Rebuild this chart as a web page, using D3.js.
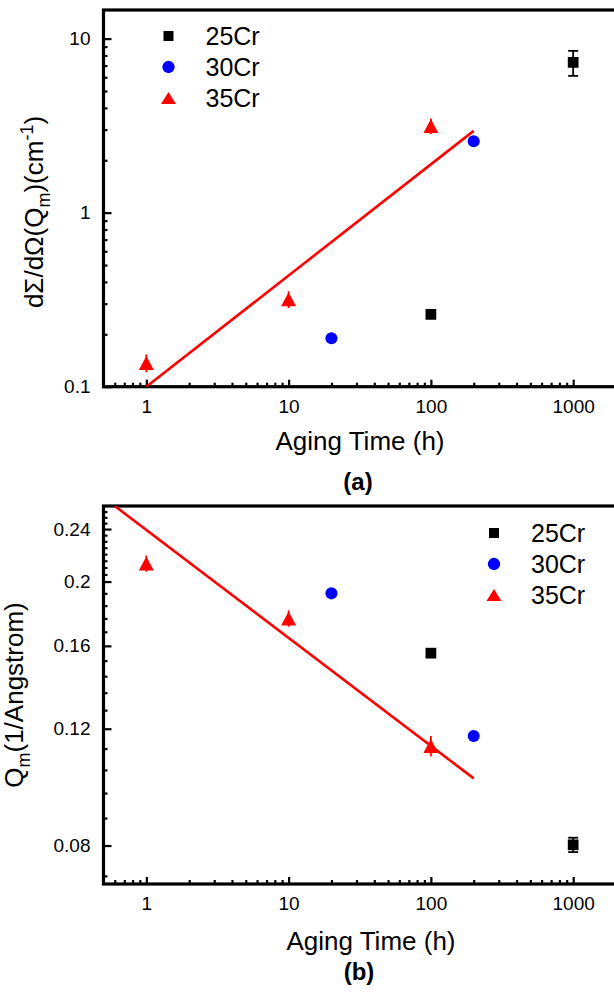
<!DOCTYPE html>
<html>
<head>
<meta charset="utf-8">
<script src="https://cdn.jsdelivr.net/npm/d3@7"></script>
<style>
  html, body { margin: 0; padding: 0; background: #fff; }
  svg { display: block; }
  text { font-family: "Liberation Sans", Arial, Helvetica, sans-serif; fill: #000; }
</style>
</head>
<body>
<div id="chart"></div>
<script>
// ---------------- DATA ----------------
const seriesNames = ["25Cr", "30Cr", "35Cr"];
const seriesColors = ["#000000", "#0000ff", "#ff0000"];

// Panel (a): dΣ/dΩ(Qm) (cm^-1) vs aging time (h)
const time25 = [100, 1000];
const a25 = [0.26, 7.3];
const a25err = [0.01, 1.2];
const time30 = [20, 200];
const a30 = [0.19, 2.57];
const a30err = [0, 0];
const time35 = [1, 10, 100];
const a35 = [0.137, 0.318, 3.15];
const a35err = [0.016, 0.035, 0.32];
const fitATime = [1, 200];
const fitA = [0.1, 2.95];

// Panel (b): Qm (1/Angstrom) vs aging time (h)
const b25 = [0.156, 0.0802];
const b25err = [0.002, 0.002];
const b30 = [0.192, 0.117];
const b30err = [0, 0];
const b35 = [0.213, 0.176, 0.113];
const b35err = [0.006, 0.005, 0.004];
const fitBTime = [0.6, 200];
const fitB = [0.26, 0.101];

// Ticks
const xMajor = [1, 10, 100, 1000];
const xMinor = [0.6, 0.7, 0.8, 0.9, 2, 3, 4, 5, 6, 7, 8, 9, 20, 30, 40, 50, 60, 70, 80, 90,
                200, 300, 400, 500, 600, 700, 800, 900];
const yMajorA = [0.1, 1, 10];
const yMinorA = [0.2, 0.3, 0.4, 0.5, 0.6, 0.7, 0.8, 0.9, 2, 3, 4, 5, 6, 7, 8, 9];
const yMajorB = [0.08, 0.12, 0.16, 0.2, 0.24];
const yMinorB = [0.072, 0.088, 0.096, 0.104, 0.112, 0.128, 0.136, 0.144, 0.152,
                 0.168, 0.176, 0.184, 0.192, 0.205, 0.21, 0.215, 0.22, 0.225, 0.23, 0.235,
                 0.245, 0.25, 0.255];

// ---------------- DRAW ----------------
const W = 614, H = 992;
const svg = d3.select("#chart").append("svg").attr("width", W).attr("height", H);

function fmtTick(d) {
  return String(d);
}

function drawPanel(p) {
  const x = d3.scaleLog().domain([0.5, 2000]).range([p.left, p.right]);
  const y = d3.scaleLog().domain(p.yDomain).range([p.bottom, p.top]);
  const g = svg.append("g");
  const clipId = "clip" + p.id;
  svg.append("defs").append("clipPath").attr("id", clipId)
    .append("rect").attr("x", p.left).attr("y", p.top)
    .attr("width", p.right - p.left).attr("height", p.bottom - p.top);

  // minor ticks
  const xMin = d3.axisBottom(x).tickValues(xMinor).tickSize(-4).tickFormat("");
  const xMaj = d3.axisBottom(x).tickValues(xMajor).tickSize(-7).tickPadding(13).tickFormat(fmtTick);
  const yMin = d3.axisLeft(y).tickValues(p.yMinor).tickSize(-4).tickFormat("");
  const yMaj = d3.axisLeft(y).tickValues(p.yMajor).tickSize(-8).tickPadding(13).tickFormat(fmtTick);

  [xMin, xMaj].forEach(ax => {
    const a = g.append("g").attr("transform", `translate(0,${p.bottom})`).call(ax);
    a.select(".domain").remove();
    a.selectAll("line").attr("stroke", "#000").attr("stroke-width", 2.2);
    a.selectAll("text").attr("font-size", 19).attr("font-family", "Liberation Sans, Arial, sans-serif");
  });
  [yMin, yMaj].forEach(ax => {
    const a = g.append("g").attr("transform", `translate(${p.left},0)`).call(ax);
    a.select(".domain").remove();
    a.selectAll("line").attr("stroke", "#000").attr("stroke-width", 2.2);
    a.selectAll("text").attr("font-size", 19).attr("font-family", "Liberation Sans, Arial, sans-serif");
  });

  // frame
  g.append("rect").attr("x", p.left).attr("y", p.top)
    .attr("width", p.right - p.left).attr("height", p.bottom - p.top)
    .attr("fill", "none").attr("stroke", "#000").attr("stroke-width", 3.2);

  const plot = g.append("g").attr("clip-path", `url(#${clipId})`);

  // fit line
  const line = d3.line().x(d => x(d[0])).y(d => y(d[1]));
  plot.append("path").datum(p.fitT.map((t, i) => [t, p.fitV[i]]))
    .attr("d", line).attr("fill", "none").attr("stroke", "#ff0000").attr("stroke-width", 2.6);

  const sym = [
    d3.symbol().type(d3.symbolSquare).size(115),
    d3.symbol().type(d3.symbolCircle).size(115),
    null
  ];
  function tri(cx, cy, hw, hh) {
    return `M${cx},${cy - hh}L${cx + hw},${cy + hh}L${cx - hw},${cy + hh}Z`;
  }

  p.series.forEach((s, si) => {
    const col = seriesColors[si];
    const pts = s.t.map((t, i) => ({ t, v: s.v[i], e: s.e[i] }));
    // error bars
    pts.filter(d => d.e > 0).forEach(d => {
      const cx = x(d.t), y1 = y(d.v - d.e), y2 = y(d.v + d.e);
      plot.append("line").attr("x1", cx).attr("x2", cx).attr("y1", y1).attr("y2", y2)
        .attr("stroke", col).attr("stroke-width", 1.8);
      if (si === 0) {
        [y1, y2].forEach(yy => plot.append("line").attr("x1", cx - 5).attr("x2", cx + 5)
          .attr("y1", yy).attr("y2", yy).attr("stroke", col).attr("stroke-width", 1.8));
      }
    });
    pts.forEach(d => {
      if (si < 2) {
        plot.append("path").attr("d", sym[si]())
          .attr("transform", `translate(${x(d.t)},${y(d.v)})`).attr("fill", col);
      } else {
        plot.append("path").attr("d", tri(x(d.t), y(d.v), 7.5, 7)).attr("fill", col);
      }
    });
  });

  // legend
  seriesNames.forEach((name, i) => {
    const ly = p.legY + i * p.legDy;
    if (i < 2) {
      g.append("path").attr("d", (i === 0 ? d3.symbol().type(d3.symbolSquare).size(100)
                                           : d3.symbol().type(d3.symbolCircle).size(120))())
        .attr("transform", `translate(${p.legX},${ly})`).attr("fill", seriesColors[i]);
    } else {
      g.append("path").attr("d", tri(p.legX, ly, 7.5, 6)).attr("fill", seriesColors[i]);
    }
    g.append("text").attr("x", p.legX + 37).attr("y", ly + 9)
      .attr("font-size", 25).text(name);
  });

  // x title
  g.append("text").attr("x", p.xTitleX).attr("y", p.xTitleY).attr("text-anchor", "middle")
    .attr("font-size", 26).text("Aging Time (h)");
  g.append("text").attr("x", p.tagX).attr("y", p.tagY).attr("text-anchor", "middle")
    .attr("font-size", 24).attr("font-weight", "bold").text(p.tag);

  // y title
  const yt = g.append("text").attr("text-anchor", "middle")
    .attr("transform", `translate(${p.yTitleX},${p.yTitleY}) rotate(-90)`)
    .attr("font-size", 26);
  p.yTitle(yt);
}

drawPanel({
  id: "a", left: 103.5, right: 616, top: 10, bottom: 386.7,
  yDomain: [0.1, 14.6], yMajor: yMajorA, yMinor: yMinorA,
  series: [
    { t: time25, v: a25, e: a25err },
    { t: time30, v: a30, e: a30err },
    { t: time35, v: a35, e: a35err }
  ],
  fitT: fitATime, fitV: fitA,
  legX: 168.5, legY: 36, legDy: 31,
  xTitleX: 360, xTitleY: 450, tagX: 358, tagY: 490, tag: "(a)",
  yTitleX: 43, yTitleY: 212,
  yTitle: t => {
    t.append("tspan").text("dΣ/dΩ(Q");
    t.append("tspan").attr("font-size", 18).attr("dy", 7).text("m");
    t.append("tspan").attr("dy", -7).text(")(cm");
    t.append("tspan").attr("font-size", 18).attr("dy", -10).text("-1");
    t.append("tspan").attr("dy", 10).text(")");
  }
});

drawPanel({
  id: "b", left: 103.5, right: 616, top: 506, bottom: 884,
  yDomain: [0.07, 0.26], yMajor: yMajorB, yMinor: yMinorB,
  series: [
    { t: time25, v: b25, e: b25err },
    { t: time30, v: b30, e: b30err },
    { t: time35, v: b35, e: b35err }
  ],
  fitT: fitBTime, fitV: fitB,
  legX: 494, legY: 533, legDy: 31,
  xTitleX: 371, xTitleY: 950, tagX: 359, tagY: 980, tag: "(b)",
  yTitleX: 23, yTitleY: 695,
  yTitle: t => {
    t.append("tspan").text("Q");
    t.append("tspan").attr("font-size", 18).attr("dy", 7).text("m");
    t.append("tspan").attr("dy", -7).text("(1/Angstrom)");
  }
});
</script>
</body>
</html>
